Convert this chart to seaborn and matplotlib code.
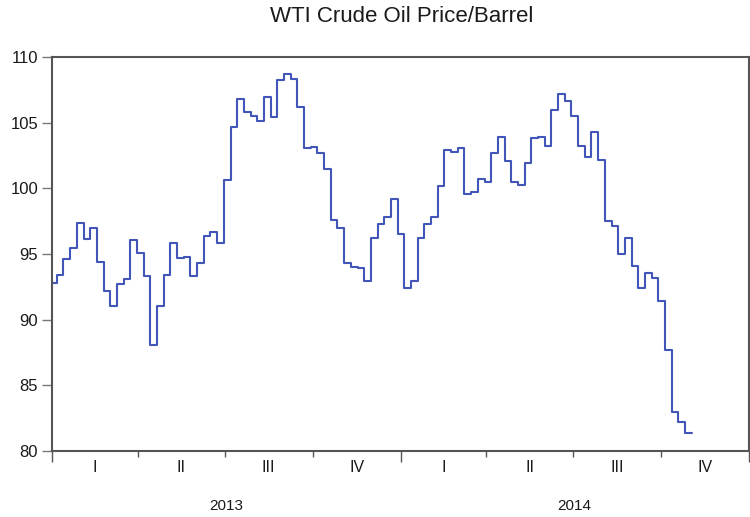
import matplotlib
matplotlib.use("Agg")
import matplotlib.pyplot as plt
import matplotlib.dates as mdates
import pandas as pd
import seaborn as sns

# ---------------- data ----------------
title = "WTI Crude Oil Price/Barrel"
first_week = "2012-12-30"          # weekly observations (week start)
prices = [
    92.76, 93.40, 94.60, 95.43, 97.33, 96.14, 96.95, 94.36, 92.18, 91.06,
    92.71, 93.07, 96.06, 95.05, 93.35, 88.07, 91.06, 93.40, 95.81, 94.67,
    94.75, 93.30, 94.29, 96.37, 96.65, 95.86, 100.63, 104.70, 106.80, 105.84,
    105.50, 105.13, 106.93, 105.40, 108.25, 108.68, 108.30, 106.17, 103.07, 103.12,
    102.67, 101.50, 97.59, 96.95, 94.29, 93.98, 93.90, 92.97, 96.24, 97.26,
    97.84, 99.16, 96.50, 92.43, 92.97, 96.24, 97.28, 97.79, 100.18, 102.92,
    102.74, 103.05, 99.54, 99.74, 100.68, 100.45, 102.71, 103.93, 102.10, 100.50,
    100.25, 101.90, 103.81, 103.93, 103.22, 105.96, 107.18, 106.67, 105.53, 103.22,
    102.41, 104.31, 102.18, 97.51, 97.13, 94.97, 96.24, 94.08, 92.43, 93.52,
    93.14, 91.44, 87.68, 82.94, 82.18, 81.39,
]
y_ticks = [80, 85, 90, 95, 100, 105, 110]
quarter_labels = ["I", "II", "III", "IV"]
years = [2013, 2014]

# ---------------- style ----------------
sns.set_theme(style="white")
plt.rcParams["font.family"] = ["Liberation Sans", "DejaVu Sans"]

line_color = "#4156B8"
frame_color = "#555555"
text_color = "#1a1a1a"

weeks = pd.date_range(first_week, periods=len(prices) + 1, freq="7D")
df = pd.DataFrame({"week": weeks, "price": prices + [prices[-1]]})

fig = plt.figure(figsize=(7.5, 5.17), dpi=100)
ax = fig.add_axes([52 / 750, 1 - 451 / 517, (749 - 52) / 750, (451 - 57) / 517])

sns.lineplot(data=df, x="week", y="price", drawstyle="steps-post",
             color=line_color, linewidth=1.5, ax=ax, legend=False)

start = pd.Timestamp(f"{years[0]}-01-01")
end = pd.Timestamp(f"{years[-1] + 1}-01-01")
ax.set_xlim(start, end)
ax.set_ylim(y_ticks[0], y_ticks[-1])
ax.set_yticks(y_ticks)
ax.set_yticklabels([str(v) for v in y_ticks], fontsize=12, color=text_color)
ax.set_xlabel("")
ax.set_ylabel("")

# x ticks: year boundaries (major, long) and quarter boundaries (minor, short)
year_starts = [pd.Timestamp(f"{y}-01-01") for y in years + [years[-1] + 1]]
q_starts = pd.date_range(start, end, freq="QS")
ax.set_xticks(year_starts)
ax.set_xticks(q_starts, minor=True)
ax.set_xticklabels([])
ax.tick_params(axis="x", which="major", length=8, width=1, color=frame_color,
               direction="out", bottom=True)
ax.tick_params(axis="x", which="minor", length=4, width=1, color=frame_color,
               direction="out", bottom=True)
ax.tick_params(axis="y", which="major", length=7, width=1, color="#777777",
               direction="out", left=True, pad=3)

for s in ax.spines.values():
    s.set_color(frame_color)
    s.set_linewidth(1.5)

trans = ax.get_xaxis_transform()
for y in years:
    for i, q in enumerate(quarter_labels):
        q0 = pd.Timestamp(year=y, month=3 * i + 1, day=1)
        q1 = q0 + pd.offsets.QuarterBegin(startingMonth=1)
        mid = q0 + (q1 - q0) / 2
        ax.text(mid, -0.042, q, transform=trans, ha="center", va="center",
                fontsize=11.5, color=text_color)
    y0 = pd.Timestamp(f"{y}-01-01")
    y1 = pd.Timestamp(f"{y + 1}-01-01")
    ax.text(y0 + (y1 - y0) / 2, -0.14, str(y), transform=trans,
            ha="center", va="center", fontsize=11, color=text_color)

fig.text(0.535, 1 - 17 / 517, title, ha="center", va="center",
         fontsize=16, color=text_color)

fig.savefig("out.png", dpi=100)
